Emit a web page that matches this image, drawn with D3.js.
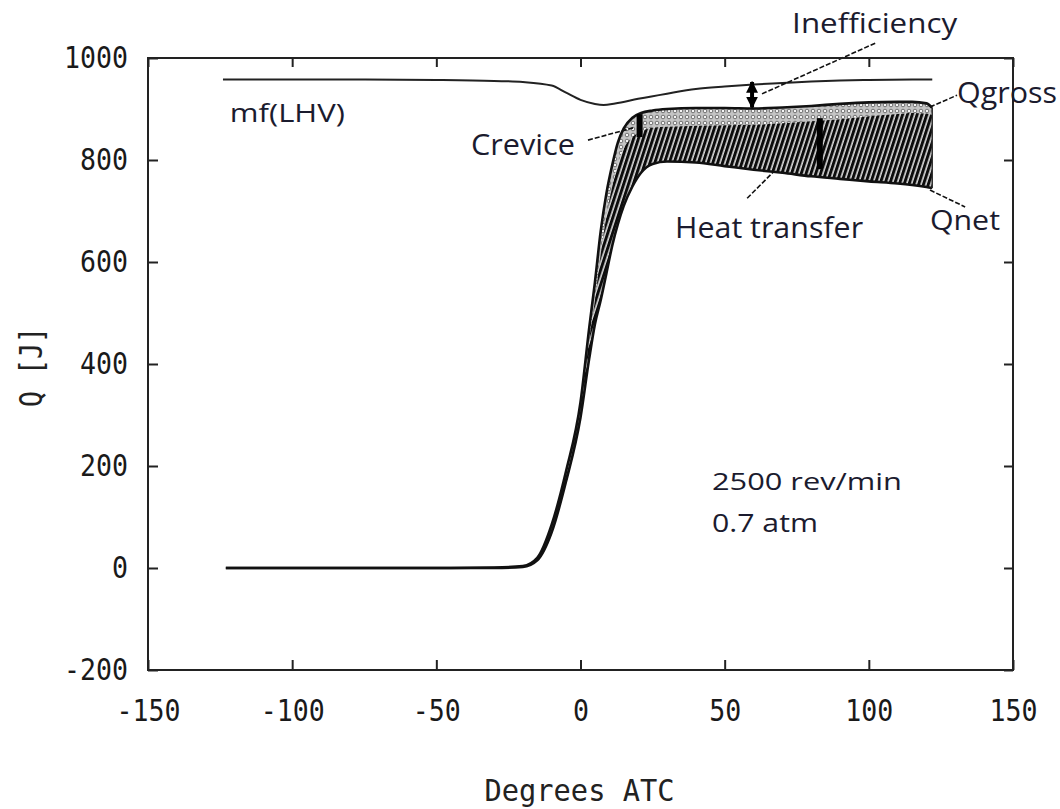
<!DOCTYPE html>
<html><head><meta charset="utf-8">
<script src="https://cdn.jsdelivr.net/npm/d3@7"></script>
<style>
html,body{margin:0;padding:0;background:#fff;}
svg{display:block;}
</style></head>
<body>
<svg id="chart" width="1060" height="809"></svg>
<script>
// ---------- data ----------
const angles = [-123,-100,-75,-50,-30,-20,-15,-10,-5,0,3,5,7,9,11,13,15,18,21,25,30,40,50,60,70,80,90,100,110,115,120,122];
const qGross = [0,0,0,0,1,4,20,85,190,325,470,560,660,735,790,835,862,883,892,897,900,902,902,901,903,906,910,913,914,914,911,902];
const qCrevice = [0,0,0,0,1,3,18,80,183,312,448,525,615,690,748,792,822,845,856,863,865,867,868,869,872,876,880,886,890,892,891,888];
const qNet = [0,0,0,0,0,2,15,70,170,295,410,478,525,578,632,675,710,748,775,792,797,795,788,781,775,768,763,758,754,751,747,745];

const mfAngles = [-124,-100,-75,-50,-30,-20,-10,-5,0,5,8,12,20,30,40,50,60,70,80,90,100,122];
const mfLHV = [958,958,958,957,955,953,946,932,918,910,908,911,920,930,939,944,948,951,954,956,957,958];

const xTicks = [-150,-100,-50,0,50,100,150];
const yTicks = [-200,0,200,400,600,800,1000];

// annotation bars (angle, from, to)
const bars = [
  {name:"crevice", a:20.5, v0:845, v1:890},
  {name:"heat", a:83, v0:782, v1:882}
];
const ineffArrow = {a:59.5, v0:953, v1:903};

// leader lines (data units)
const leaders = [
  {x1:102.2, y1:1029, x2:62.3, y2:928},
  {x1:121.2, y1:904, x2:130.6, y2:927},
  {x1:2.6, y1:839, x2:18.2, y2:863},
  {x1:57.8, y1:725, x2:66.8, y2:776},
  {x1:121.2, y1:741, x2:133.4, y2:708}
];

// text labels (left baseline in data units)
const labels = [
  {t:"Inefficiency", x:73.4, y:1049, size:28, w:165},
  {t:"Qgross", x:130.6, y:912, size:29, w:100},
  {t:"mf(LHV)", x:-121.6, y:875, size:25, w:115},
  {t:"Crevice", x:-38, y:810, size:29, w:104},
  {t:"Heat transfer", x:32.8, y:647, size:29, w:188},
  {t:"Qnet", x:121.2, y:663, size:28, w:70},
  {t:"2500 rev/min", x:45.6, y:153, size:24, w:190},
  {t:"0.7 atm", x:45.6, y:71, size:25, w:106}
];

// ---------- chart ----------
const svg = d3.select("#chart");
const x = d3.scaleLinear().domain([-150,150]).range([148,1013]);
const y = d3.scaleLinear().domain([-200,1000]).range([670,58]);

const defs = svg.append("defs");
const dots = defs.append("pattern").attr("id","dots").attr("patternUnits","userSpaceOnUse")
  .attr("width",6).attr("height",6);
dots.append("rect").attr("width",6).attr("height",6).attr("fill","#c4c4c4");
dots.append("circle").attr("cx",3).attr("cy",3).attr("r",1.8).attr("fill","#f6f6f6").attr("stroke","#555").attr("stroke-width",0.8);

const hatch = defs.append("pattern").attr("id","hatch").attr("patternUnits","userSpaceOnUse")
  .attr("width",4.6).attr("height",4.6).attr("patternTransform","rotate(18)");
hatch.append("rect").attr("width",4.6).attr("height",4.6).attr("fill","#d8d8d8");
hatch.append("line").attr("x1",1.5).attr("y1",0).attr("x2",1.5).attr("y2",4.6).attr("stroke","#0c0c0c").attr("stroke-width",3);

const arrow = defs.append("marker").attr("id","ah").attr("viewBox","0 0 10 10").attr("refX",9).attr("refY",5)
  .attr("markerWidth",3).attr("markerHeight",3).attr("orient","auto-start-reverse");
arrow.append("path").attr("d","M0,0L10,5L0,10z").attr("fill","#000");

const idx = d3.range(angles.length);

// areas
svg.append("path").datum(idx).attr("fill","url(#dots)")
  .attr("d", d3.area().x(i=>x(angles[i])).y0(i=>y(qCrevice[i])).y1(i=>y(qGross[i])).curve(d3.curveMonotoneX));
svg.append("path").datum(idx).attr("fill","url(#hatch)")
  .attr("d", d3.area().x(i=>x(angles[i])).y0(i=>y(qNet[i])).y1(i=>y(qCrevice[i])).curve(d3.curveMonotoneX));

// lines
const lineOf = arr => d3.line().x(i=>x(angles[i])).y(i=>y(arr[i])).curve(d3.curveMonotoneX);
svg.append("path").datum(idx).attr("fill","none").attr("stroke","#111").attr("stroke-width",2.6).attr("d", lineOf(qGross));
svg.append("path").datum(idx).attr("fill","none").attr("stroke","#111").attr("stroke-width",2.6).attr("d", lineOf(qNet));
// right closing edge
svg.append("line").attr("x1",x(angles[angles.length-1])).attr("x2",x(angles[angles.length-1]))
  .attr("y1",y(qNet[qNet.length-1])).attr("y2",y(qGross[qGross.length-1])).attr("stroke","#333").attr("stroke-width",1.5);

const mfIdx = d3.range(mfAngles.length);
svg.append("path").datum(mfIdx).attr("fill","none").attr("stroke","#222").attr("stroke-width",2)
  .attr("d", d3.line().x(i=>x(mfAngles[i])).y(i=>y(mfLHV[i])).curve(d3.curveMonotoneX));

// annotation bars
svg.selectAll(".bar").data(bars).join("line")
  .attr("x1",d=>x(d.a)).attr("x2",d=>x(d.a)).attr("y1",d=>y(d.v0)).attr("y2",d=>y(d.v1))
  .attr("stroke","#000").attr("stroke-width",6);
svg.append("line").attr("x1",x(ineffArrow.a)).attr("x2",x(ineffArrow.a))
  .attr("y1",y(ineffArrow.v0)).attr("y2",y(ineffArrow.v1))
  .attr("stroke","#000").attr("stroke-width",4)
  .attr("marker-end","url(#ah)").attr("marker-start","url(#ah)");

// leaders
svg.selectAll(".leader").data(leaders).join("line")
  .attr("x1",d=>x(d.x1)).attr("y1",d=>y(d.y1)).attr("x2",d=>x(d.x2)).attr("y2",d=>y(d.y2))
  .attr("stroke","#111").attr("stroke-width",1.6).attr("stroke-dasharray","5,2");

// frame & axes
const monoFont = "DejaVu Sans Mono, Liberation Mono, monospace";
function styleAxis(g, labelsOn){
  g.select(".domain").remove();
  g.selectAll(".tick line").attr("stroke","#222").attr("stroke-width",2);
  if(!labelsOn) g.selectAll(".tick text").remove();
  else g.selectAll(".tick text").attr("font-family",monoFont).attr("font-size",30).attr("fill","#1a1a1a")
      .attr("textLength",function(){return this.textContent.length*16;}).attr("lengthAdjust","spacingAndGlyphs");
}
svg.append("g").attr("transform",`translate(0,${y(-200)})`)
  .call(d3.axisBottom(x).tickValues(xTicks).tickSizeInner(-10).tickSizeOuter(0).tickPadding(30).tickFormat(d=>d<0?"-"+Math.abs(d):d))
  .call(g=>styleAxis(g,true));
svg.append("g").attr("transform",`translate(${x(-150)},0)`)
  .call(d3.axisLeft(y).tickValues(yTicks).tickSizeInner(-10).tickSizeOuter(0).tickPadding(20).tickFormat(d=>d<0?"-"+Math.abs(d):d))
  .call(g=>styleAxis(g,true));
svg.append("g").attr("transform",`translate(0,${y(1000)})`)
  .call(d3.axisTop(x).tickValues(xTicks).tickSizeInner(-9).tickSizeOuter(0))
  .call(g=>styleAxis(g,false));
svg.append("g").attr("transform",`translate(${x(150)},0)`)
  .call(d3.axisRight(y).tickValues(yTicks).tickSizeInner(-9).tickSizeOuter(0))
  .call(g=>styleAxis(g,false));

svg.append("rect").attr("x",x(-150)).attr("y",y(1000)).attr("width",x(150)-x(-150)).attr("height",y(-200)-y(1000))
  .attr("fill","none").attr("stroke","#222").attr("stroke-width",2);

// axis titles
svg.append("text").attr("x",(x(-150)+x(150))/2-1).attr("y",801).attr("text-anchor","middle")
  .attr("font-family",monoFont).attr("font-size",30).attr("fill","#222")
  .attr("textLength",190).attr("lengthAdjust","spacingAndGlyphs").text("Degrees ATC");
svg.append("text").attr("transform",`translate(42,${(y(400)+y(200))/2-48}) rotate(-90)`).attr("text-anchor","middle")
  .attr("font-family",monoFont).attr("font-size",32).attr("fill","#222")
  .attr("textLength",80).attr("lengthAdjust","spacingAndGlyphs").text("Q [J]");

// labels
svg.selectAll(".lbl").data(labels).join("text")
  .attr("x",d=>x(d.x)).attr("y",d=>y(d.y))
  .attr("font-family","Open Sans, Noto Sans, sans-serif").attr("font-size",d=>d.size).attr("fill","#1b1b2e")
  .attr("textLength",d=>d.w).attr("lengthAdjust","spacingAndGlyphs")
  .text(d=>d.t);
</script>
</body></html>
